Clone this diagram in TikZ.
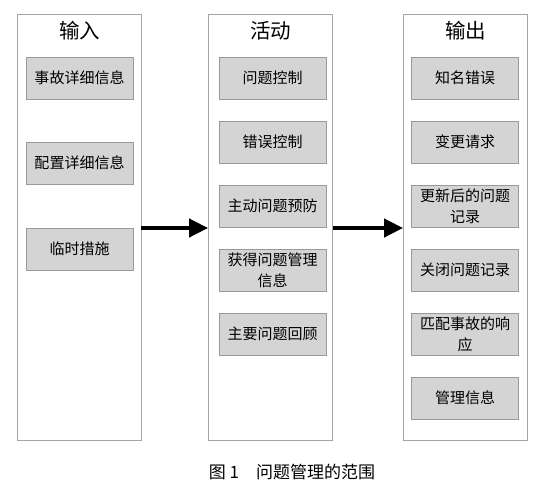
\documentclass[tikz,border=0pt]{standalone}
\usepackage{fontspec}
\setmainfont{Noto Sans CJK SC}
\usetikzlibrary{arrows.meta}
\begin{document}
\begin{tikzpicture}[x=1pt,y=-1pt,
  col/.style={draw=black!35,line width=0.8pt,fill=white,minimum width=124pt,minimum height=426pt,inner sep=0pt},
  item/.style={draw=black!40,line width=0.8pt,fill=black!17,minimum width=107pt,minimum height=42pt,inner sep=1pt,text width=105pt,align=center,font=\fontsize{15}{21}\selectfont},
  ttl/.style={font=\fontsize{20.5}{24}\selectfont},
  bigarrow/.style={line width=4pt,-{Triangle[length=19pt,width=18pt]}}]
\useasboundingbox (0,0) rectangle (535,485);
% columns
\node[col] (cin) at (79,227) {};
\node[col] (cact) at (270.5,227) {};
\node[col] (cout) at (465.5,227) {};
\node[ttl] (tin) at (79.5,31) {输入};
\node[ttl] (tact) at (270.5,31) {活动};
\node[ttl] (tout) at (465.5,31) {输出};
% input items
\node[item] (i1) at (79.5,78) {事故详细信息};
\node[item] (i2) at (79.5,163) {配置详细信息};
\node[item] (i3) at (79.5,249) {临时措施};
% activity items
\node[item] (a1) at (272.5,78) {问题控制};
\node[item] (a2) at (272.5,142) {错误控制};
\node[item] (a3) at (272.5,206) {主动问题预防};
\node[item] (a4) at (272.5,270) {获得问题管理\\信息};
\node[item] (a5) at (272.5,334) {主要问题回顾};
% output items
\node[item] (o1) at (465,78) {知名错误};
\node[item] (o2) at (465,142) {变更请求};
\node[item] (o3) at (465,206) {更新后的问题\\记录};
\node[item] (o4) at (465,270) {关闭问题记录};
\node[item] (o5) at (465,334) {匹配事故的响\\应};
\node[item] (o6) at (465,398) {管理信息};
% arrows
\coordinate (ay) at (0,228);
\draw[bigarrow] (cin.east |- ay) -- (cact.west |- ay);
\draw[bigarrow] (cact.east |- ay) -- (cout.west |- ay);
% caption
\node[font=\fontsize{17}{20}\selectfont] (cap) at (292,472) {图 1\quad 问题管理的范围};
\end{tikzpicture}
\end{document}
